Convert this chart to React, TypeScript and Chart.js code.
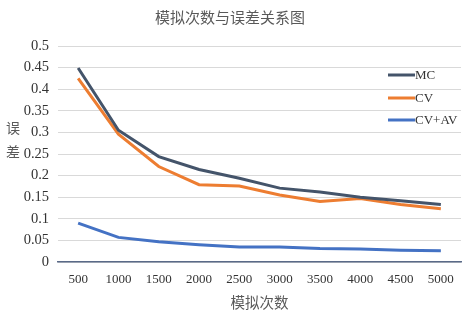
import React, { useEffect, useRef } from "react";
import { Chart, registerables } from "chart.js";

Chart.register(...registerables);

const categories = ["500", "1000", "1500", "2000", "2500", "3000", "3500", "4000", "4500", "5000"];
const mcValues = [0.449, 0.305, 0.244, 0.214, 0.194, 0.171, 0.162, 0.150, 0.142, 0.133];
const cvValues = [0.425, 0.296, 0.221, 0.179, 0.176, 0.155, 0.140, 0.147, 0.133, 0.123];
const cvavValues = [0.090, 0.057, 0.047, 0.040, 0.035, 0.035, 0.031, 0.030, 0.027, 0.026];
const seriesNames = ["MC", "CV", "CV+AV"];
const seriesColors = ["#44546A", "#ED7D31", "#4472C4"];
const chartTitle = "模拟次数与误差关系图";
const xTitle = "模拟次数";
const yTitleChars = ["误", "差"];

const SERIF = "'Liberation Serif', 'Noto Sans CJK SC', serif";
const CJK = "'Noto Sans CJK SC', 'Liberation Serif', serif";

const overlayPlugin = {
  id: "overlay",
  afterDraw(chart: any) {
    const ctx = chart.ctx;
    ctx.save();
    ctx.fillStyle = "#595959";
    ctx.font = `15px ${CJK}`;
    ctx.textAlign = "center";
    ctx.textBaseline = "middle";
    ctx.fillText(chartTitle, 230, 17);
    ctx.font = `14px ${CJK}`;
    ctx.fillText(yTitleChars[0], 13, 128);
    ctx.fillText(yTitleChars[1], 13, 152);
    const lx = 388;
    const ys = [75, 98, 120];
    ctx.font = `13px ${SERIF}`;
    ctx.textAlign = "left";
    seriesNames.forEach((n, i) => {
      ctx.strokeStyle = seriesColors[i];
      ctx.lineWidth = 3;
      ctx.beginPath();
      ctx.moveTo(lx, ys[i]);
      ctx.lineTo(lx + 27, ys[i]);
      ctx.stroke();
      ctx.fillStyle = "#333333";
      ctx.fillText(n, lx + 27, ys[i] + 1);
    });
    ctx.restore();
  },
};

export default function App() {
  const ref = useRef<HTMLCanvasElement>(null);
  useEffect(() => {
    document.body.style.margin = "0";
    const chart = new Chart(ref.current!, {
      type: "line",
      data: {
        labels: categories,
        datasets: [mcValues, cvValues, cvavValues].map((d, i) => ({
          label: seriesNames[i],
          data: d,
          borderColor: seriesColors[i],
          backgroundColor: seriesColors[i],
          borderWidth: 3,
          pointRadius: 0,
          tension: 0,
        })),
      },
      options: {
        animation: false,
        responsive: false,
        layout: { padding: { top: 46, right: 9, left: 0, bottom: 0 } },
        plugins: { legend: { display: false }, title: { display: false }, tooltip: { enabled: false } },
        scales: {
          x: {
            offset: true,
            grid: { display: false, drawTicks: false },
            border: { display: true, color: "#5a6a88", width: 1.5 },
            ticks: { color: "#333333", font: { family: SERIF, size: 13 }, padding: 10, maxRotation: 0, autoSkip: false },
            title: { display: true, text: xTitle, color: "#595959", font: { family: CJK, size: 14.5 }, padding: { top: 0, bottom: 0 } },
            afterFit: (s: any) => { s.height = 49; },
          },
          y: {
            min: 0,
            max: 0.5,
            ticks: { stepSize: 0.05, color: "#333333", font: { family: SERIF, size: 14.5 }, padding: 9,
              callback: (v: any) => String(Math.round(Number(v) * 100) / 100) },
            grid: { color: "#d9d9d9", lineWidth: 1, drawTicks: false },
            border: { display: false },
            afterFit: (s: any) => { s.width = 58; },
          },
        },
      },
      plugins: [overlayPlugin],
    });
    return () => chart.destroy();
  }, []);
  return <canvas ref={ref} width={470} height={311} style={{ display: "block" }} />;
}
